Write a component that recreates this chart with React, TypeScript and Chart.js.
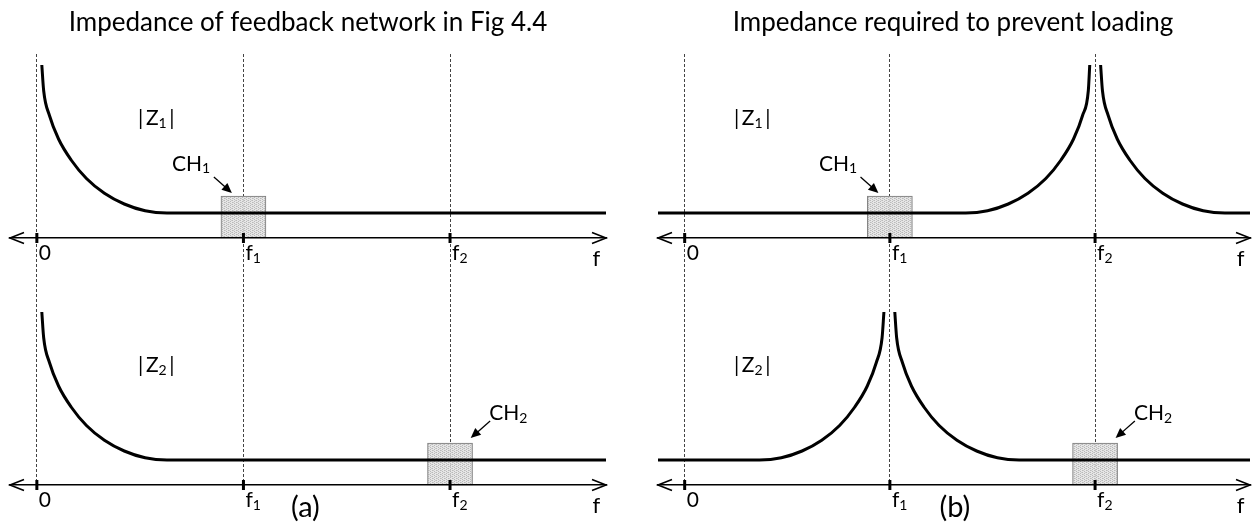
import { useEffect, useRef } from 'react';
import { Chart, registerables } from 'chart.js';

Chart.register(...registerables);

const FONT = 'Lato, "Open Sans", sans-serif';

// Frequency axis (f measured in units of f1)
const freqMin = -0.13;
const freqMax = 2.755;
const tickValues = [0, 1, 2];
const tickLabels = ['0', 'f_{1}', 'f_{2}'];
const axisLabel = 'f';
const axisLabelAt = 2.69;

// |Z| in units of the flat high-frequency level
// (a) feedback network: falls from low frequency to a flat level
const zNetX = [0.024, 0.033, 0.061, 0.105, 0.166, 0.24, 0.327, 0.423, 0.524, 0.63, 2.755];
const zNetY = [6.92, 5.89, 4.9, 3.96, 3.12, 2.38, 1.79, 1.36, 1.09, 1.0, 1.0];

// (b) required |Z1|: pole at f2
const zLoad1X = [-0.13, 1.37, 1.476, 1.577, 1.673, 1.76, 1.834, 1.895, 1.939, 1.967, 1.974, 2.0, 2.027, 2.036, 2.064, 2.108, 2.169, 2.243, 2.33, 2.426, 2.527, 2.633, 2.755];
const zLoad1Y = [1.0, 1.0, 1.09, 1.36, 1.79, 2.38, 3.12, 3.96, 4.9, 5.89, 6.92, null, 6.92, 5.89, 4.9, 3.96, 3.12, 2.38, 1.79, 1.36, 1.09, 1.0, 1.0];

// (b) required |Z2|: pole at f1
const zLoad2X = [-0.13, 0.365, 0.471, 0.572, 0.668, 0.755, 0.829, 0.89, 0.934, 0.962, 0.971, 1.0, 1.024, 1.033, 1.061, 1.105, 1.166, 1.24, 1.327, 1.423, 1.524, 1.63, 2.755];
const zLoad2Y = [1.0, 1.0, 1.09, 1.36, 1.79, 2.38, 3.12, 3.96, 4.9, 5.89, 6.92, null, 6.92, 5.89, 4.9, 3.96, 3.12, 2.38, 1.79, 1.36, 1.09, 1.0, 1.0];

// Channel bands: CH1 centred on f1, CH2 centred on f2
const chCenters = [1, 2];
const chBand = [0, 1.68];
const chLabels = ['CH_{1}', 'CH_{2}'];
const zLabels = ['|\u2009Z_{1}\u2009|', '|\u2009Z_{2}\u2009|'];
const zLabelLevel = 4.52;

type Spec = {
  title: string;
  tag: string;
  tagAt: number;
  z1: [number[], (number | null)[]];
  z2: [number[], (number | null)[]];
  zLabelAt: number;
  left: number;
  width: number;
  padLeft: number;
  padRight: number;
};

const panels: Spec[] = [
  {
    title: 'Impedance of feedback network in Fig 4.4',
    tag: '(a)',
    tagAt: 1.3,
    z1: [zNetX, zNetY],
    z2: [zNetX, zNetY],
    zLabelAt: 0.49,
    left: 0,
    width: 640,
    padLeft: 10,
    padRight: 34,
  },
  {
    title: 'Impedance required to prevent loading',
    tag: '(b)',
    tagAt: 1.317,
    z1: [zLoad1X, zLoad1Y],
    z2: [zLoad2X, zLoad2Y],
    zLabelAt: 0.24,
    left: 650,
    width: 622,
    padLeft: 6,
    padRight: 22,
  },
];

const toPoints = (xs: number[], ys: (number | null)[]) => xs.map((x, i) => ({ x, y: ys[i] }));

function splitRich(s: string): [string, boolean][] {
  const out: [string, boolean][] = [];
  const re = /_\{([^}]*)\}/g;
  let last = 0;
  let m: RegExpExecArray | null;
  while ((m = re.exec(s))) {
    if (m.index > last) out.push([s.slice(last, m.index), false]);
    out.push([m[1], true]);
    last = re.lastIndex;
  }
  if (last < s.length) out.push([s.slice(last), false]);
  return out;
}

function drawRich(ctx: CanvasRenderingContext2D, s: string, x: number, y: number, size: number, center = false) {
  const base = `${size}px ${FONT}`;
  const sub = `${Math.round(size * 0.68)}px ${FONT}`;
  const parts = splitRich(s);
  let w = 0;
  for (const [t, isSub] of parts) {
    ctx.font = isSub ? sub : base;
    w += ctx.measureText(t).width;
  }
  let cx = center ? x - w / 2 : x;
  ctx.textAlign = 'left';
  ctx.textBaseline = 'alphabetic';
  ctx.fillStyle = '#000';
  for (const [t, isSub] of parts) {
    ctx.font = isSub ? sub : base;
    ctx.fillText(t, cx, isSub ? y + size * 0.13 : y);
    cx += ctx.measureText(t).width;
  }
}

function pointerArrow(ctx: CanvasRenderingContext2D, x1: number, y1: number, x2: number, y2: number) {
  const a = Math.atan2(y2 - y1, x2 - x1);
  const L = 10;
  const W = 4.5;
  const c = Math.cos(a);
  const s = Math.sin(a);
  ctx.beginPath();
  ctx.moveTo(x1, y1);
  ctx.lineTo(x2 - L * 0.7 * c, y2 - L * 0.7 * s);
  ctx.stroke();
  ctx.beginPath();
  ctx.moveTo(x2, y2);
  ctx.lineTo(x2 - L * c + W * s, y2 - L * s - W * c);
  ctx.lineTo(x2 - L * c - W * s, y2 - L * s + W * c);
  ctx.closePath();
  ctx.fill();
}

// Axis arrowheads, tick labels and annotations for both sub-plots of a panel
const diagramPlugin = {
  id: 'diagram',
  afterDraw(chart: any, _args: any, opts: any) {
    const ctx: CanvasRenderingContext2D = chart.ctx;
    const pairs = [
      ['xTop', 'yTop'],
      ['xBot', 'yBot'],
    ];
    ctx.save();
    pairs.forEach(([xid, yid], k) => {
      const xs = chart.scales[xid];
      const ys = chart.scales[yid];
      const y0 = ys.getPixelForValue(0);

      ctx.strokeStyle = '#000';
      ctx.fillStyle = '#000';
      ctx.lineWidth = 1.6;
      ctx.beginPath();
      ctx.moveTo(xs.left + 14, y0 - 5.5);
      ctx.lineTo(xs.left, y0);
      ctx.lineTo(xs.left + 14, y0 + 5.5);
      ctx.moveTo(xs.right - 14, y0 - 5.5);
      ctx.lineTo(xs.right, y0);
      ctx.lineTo(xs.right - 14, y0 + 5.5);
      ctx.stroke();

      tickValues.forEach((v, i) => drawRich(ctx, tickLabels[i], xs.getPixelForValue(v) + 2, y0 + 22, 21));
      drawRich(ctx, axisLabel, xs.getPixelForValue(axisLabelAt), y0 + 28, 22);

      drawRich(ctx, zLabels[k], xs.getPixelForValue(opts.zLabelAt), ys.getPixelForValue(zLabelLevel), 21);

      const ch = opts.channels[k];
      drawRich(ctx, chLabels[k], xs.getPixelForValue(ch.labelX), ys.getPixelForValue(ch.labelY), 21);
      ctx.lineWidth = 1.3;
      pointerArrow(
        ctx,
        xs.getPixelForValue(ch.from[0]),
        ys.getPixelForValue(ch.from[1]),
        xs.getPixelForValue(ch.to[0]),
        ys.getPixelForValue(ch.to[1])
      );

      if (k === 1) {
        drawRich(ctx, opts.tag, xs.getPixelForValue(opts.tagAt), y0 + 32, 29, true);
      }
    });
    ctx.restore();
  },
};

function stipple(): CanvasPattern | string {
  const c = document.createElement('canvas');
  c.width = 4;
  c.height = 4;
  const g = c.getContext('2d');
  if (!g) return 'rgba(210,210,210,0.8)';
  g.fillStyle = 'rgba(226,226,226,0.85)';
  g.fillRect(0, 0, 4, 4);
  g.fillStyle = 'rgba(178,178,178,0.85)';
  g.fillRect(0, 0, 1, 1);
  g.fillRect(2, 1, 1, 1);
  g.fillRect(0, 2, 1, 1);
  g.fillRect(2, 3, 1, 1);
  g.fillStyle = 'rgba(200,200,200,0.85)';
  g.fillRect(1, 2, 1, 1);
  g.fillRect(3, 0, 1, 1);
  return g.createPattern(c, 'repeat') || 'rgba(210,210,210,0.8)';
}

function xAxis(yid: string, withGrid: boolean) {
  return {
    type: 'linear',
    axis: 'x',
    position: { [yid]: 0 },
    min: freqMin,
    max: freqMax,
    offset: false,
    afterBuildTicks: (s: any) => {
      s.ticks = tickValues.map((value) => ({ value }));
    },
    ticks: { display: false },
    grid: {
      display: withGrid,
      drawOnChartArea: true,
      drawTicks: false,
      color: '#444',
      lineWidth: 1,
      offset: false,
    },
    border: { display: true, color: '#000', width: 1.6, dash: [3, 2], z: 1 },
  };
}

function PanelChart({ spec }: { spec: Spec }) {
  const ref = useRef<HTMLCanvasElement>(null);
  useEffect(() => {
    if (!ref.current) return;
    const fill = stipple();
    const curve = {
      borderColor: '#000',
      borderWidth: 3,
      pointRadius: 0,
      cubicInterpolationMode: 'monotone',
      spanGaps: false,
      fill: false,
      order: 2,
    };
    const band = {
      type: 'bar',
      backgroundColor: fill,
      borderColor: '#7a7a7a',
      borderWidth: 1,
      borderSkipped: false,
      barThickness: 45,
      grouped: false,
      order: 3,
    };
    const marks = {
      showLine: false,
      pointStyle: 'line',
      pointRotation: 90,
      pointRadius: 5,
      pointBorderWidth: 3,
      pointBorderColor: '#000',
      order: 1,
    };
    const chart = new Chart(ref.current, {
      type: 'line',
      data: {
        datasets: [
          { ...band, label: 'CH1', data: [{ x: chCenters[0], y: chBand }], xAxisID: 'xTop', yAxisID: 'yTop' },
          { ...band, label: 'CH2', data: [{ x: chCenters[1], y: chBand }], xAxisID: 'xBot', yAxisID: 'yBot' },
          { ...curve, label: '|Z1|', data: toPoints(spec.z1[0], spec.z1[1]), xAxisID: 'xTop', yAxisID: 'yTop' },
          { ...curve, label: '|Z2|', data: toPoints(spec.z2[0], spec.z2[1]), xAxisID: 'xBot', yAxisID: 'yBot' },
          { ...marks, label: 'ticks1', data: tickValues.map((x) => ({ x, y: 0 })), xAxisID: 'xTop', yAxisID: 'yTop' },
          { ...marks, label: 'ticks2', data: tickValues.map((x) => ({ x, y: 0 })), xAxisID: 'xBot', yAxisID: 'yBot' },
        ] as any,
      },
      options: {
        animation: false,
        responsive: false,
        events: [],
        layout: { padding: { top: 0, left: spec.padLeft, right: spec.padRight, bottom: 37 } },
        scales: {
          yTop: { type: 'linear', axis: 'y', display: false, min: -10.08, max: 7.36 },
          yBot: { type: 'linear', axis: 'y', display: false, min: -0.2, max: 17.24 },
          xTop: xAxis('yTop', true),
          xBot: xAxis('yBot', false),
        } as any,
        plugins: {
          legend: { display: false },
          tooltip: { enabled: false },
          title: {
            display: true,
            text: spec.title,
            color: '#000',
            font: { family: FONT, size: 26, weight: 'normal' },
            padding: { top: 7.4, bottom: 15.4 },
          },
          diagram: {
            zLabelAt: spec.zLabelAt,
            tag: spec.tag,
            tagAt: spec.tagAt,
            channels: [
              { labelX: 0.654, labelY: 2.7, from: [0.857, 2.44], to: [0.944, 1.8] },
              { labelX: 2.19, labelY: 2.6, from: [2.194, 2.56], to: [2.1, 1.88] },
            ],
          },
        } as any,
      },
      plugins: [diagramPlugin],
    } as any);
    return () => chart.destroy();
  }, [spec]);
  return (
    <canvas
      ref={ref}
      width={spec.width}
      height={527}
      style={{ position: 'absolute', left: spec.left, top: 0, width: spec.width, height: 527 }}
    />
  );
}

export default function App() {
  return (
    <div
      style={{
        position: 'absolute',
        left: 0,
        top: 0,
        width: 1255,
        height: 527,
        overflow: 'hidden',
        background: '#fff',
      }}
    >
      {panels.map((p) => (
        <PanelChart key={p.title} spec={p} />
      ))}
    </div>
  );
}
